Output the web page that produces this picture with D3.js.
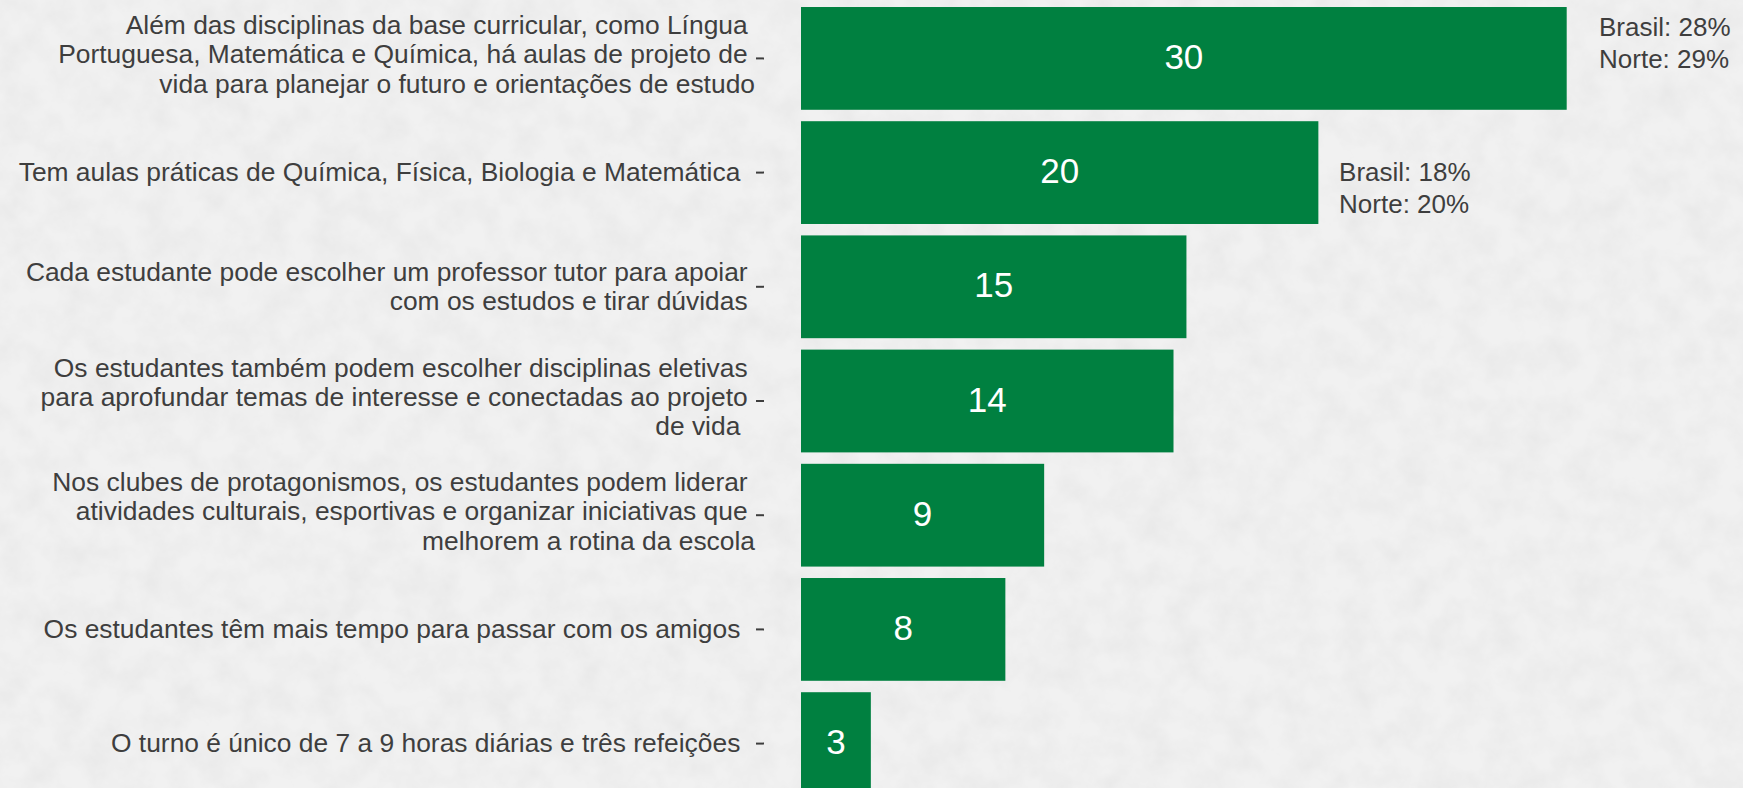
<!DOCTYPE html>
<html>
<head>
<meta charset="utf-8">
<script src="https://cdn.jsdelivr.net/npm/d3@7"></script>
<style>
  html, body { margin: 0; padding: 0; background: #efefef; }
  svg { display: block; font-family: "Liberation Sans", Arial, sans-serif; }
  .lbl { fill: #3e3e3e; font-size: 26.4px; white-space: pre; }
  .anno { fill: #3e3e3e; font-size: 26px; }
  .val { fill: #fff; font-size: 35px; }
</style>
</head>
<body>
<svg id="chart" width="1743" height="788"></svg>
<script>
// category labels, one entry per line (trailing spaces kept as in the source)
const categories = [
  ["Além das disciplinas da base curricular, como Língua ", "Portuguesa, Matemática e Química, há aulas de projeto de ", "vida para planejar o futuro e orientações de estudo"],
  ["Tem aulas práticas de Química, Física, Biologia e Matemática  "],
  ["Cada estudante pode escolher um professor tutor para apoiar ", "com os estudos e tirar dúvidas "],
  ["Os estudantes também podem escolher disciplinas eletivas ", "para aprofundar temas de interesse e conectadas ao projeto ", "de vida  "],
  ["Nos clubes de protagonismos, os estudantes podem liderar ", "atividades culturais, esportivas e organizar iniciativas que ", "melhorem a rotina da escola"],
  ["Os estudantes têm mais tempo para passar com os amigos  "],
  ["O turno é único de 7 a 9 horas diárias e três refeições  "]
];
const values = [29.6, 20.0, 14.9, 14.4, 9.4, 7.9, 2.7];

// side notes (Brasil / Norte) for the first two bars
const noteCats = [0, 1];
const noteX = [30.85, 20.8];
const noteLines = [["Brasil: 28%", "Norte: 29%"], ["Brasil: 18%", "Norte: 20%"]];

const W = 1743, H = 788;
const svg = d3.select("#chart");

// paper-like background
const defs = svg.append("defs");
const f = defs.append("filter").attr("id", "paper").attr("x", 0).attr("y", 0).attr("width", "100%").attr("height", "100%");
f.append("feTurbulence").attr("type", "fractalNoise").attr("baseFrequency", 0.035).attr("numOctaves", 4).attr("seed", 7);
f.append("feColorMatrix").attr("type", "matrix")
  .attr("values", "0 0 0 0 0.55  0 0 0 0 0.55  0 0 0 0 0.55  0.3 0 0 0 -0.1");
svg.append("rect").attr("width", W).attr("height", H).attr("fill", "#f1f1f1");
svg.append("rect").attr("width", W).attr("height", H).attr("filter", "url(#paper)");

const x = d3.scaleLinear().domain([0, 29.6]).range([801, 1566.7]);
const y = d3.scaleBand().domain(d3.range(categories.length)).range([1.3, 800.7]).paddingInner(0.1).paddingOuter(0.05);
const cy = (i) => y(i) + y.bandwidth() / 2;

// bars
svg.append("g").selectAll("rect").data(values).join("rect")
  .attr("x", x(0)).attr("y", (d, i) => y(i))
  .attr("width", (d) => x(d) - x(0)).attr("height", y.bandwidth())
  .attr("fill", "#008040");

// value labels inside bars
svg.append("g").selectAll("text").data(values).join("text")
  .attr("class", "val").attr("text-anchor", "middle")
  .attr("x", (d) => (x(0) + x(d)) / 2).attr("y", (d, i) => cy(i)).attr("dy", "0.3em")
  .text((d) => Math.round(d));

// y axis: tick dashes + multi-line labels
const LH = 29.3, TX = 755;
const ax = svg.append("g");
ax.selectAll("line").data(categories).join("line")
  .attr("x1", 756).attr("x2", 764)
  .attr("y1", (d, i) => cy(i)).attr("y2", (d, i) => cy(i))
  .attr("stroke", "#3e3e3e").attr("stroke-width", 2);
const lbl = ax.selectAll("text").data(categories).join("text")
  .attr("class", "lbl").attr("text-anchor", "end");
lbl.selectAll("tspan").data((d, i) => d.map((s, k) => ({ s, k, n: d.length, i }))).join("tspan")
  .attr("x", TX)
  .attr("y", (o) => cy(o.i) + (o.k - (o.n - 1) / 2) * LH + (o.n === 3 ? 5 : 8.5))
  .text((o) => o.s);

// Brasil / Norte notes
const notes = svg.append("g");
noteCats.forEach((c, j) => {
  const off = j === 0 ? -22.5 : 8;
  notes.append("text").attr("class", "anno")
    .selectAll("tspan").data(noteLines[j]).join("tspan")
    .attr("x", x(noteX[j])).attr("y", (s, k) => cy(c) + off + k * 32)
    .text((s) => s);
});
</script>
</body>
</html>
